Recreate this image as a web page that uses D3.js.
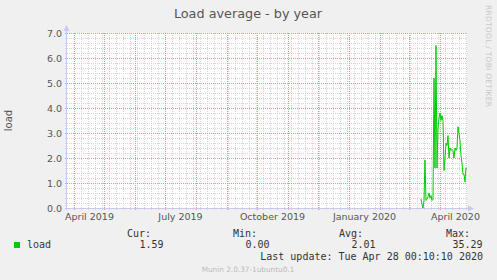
<!DOCTYPE html>
<html>
<head>
<meta charset="utf-8">
<script src="https://cdn.jsdelivr.net/npm/d3@7"></script>
<style>
  body { margin: 0; background: #f0f0f0; }
  text { font-family: "DejaVu Sans", sans-serif; }
  .mono { font-family: "DejaVu Sans Mono", monospace; font-size: 10px; fill: #333; }
</style>
</head>
<body>
<div id="chart"></div>
<script>

// daily load averages, first value on loadStart
var loadStart = "2020-03-13";
var loadValues = [0.36, 0.15, 0.0, 0.3, 1.92, 0.3, 0.35, 0.45, 0.6, 0.4,
    0.5, 0.3, 0.35, 5.2, 1.6, 6.5, 1.6, 3.2, 3.6, 3.8,
    3.5, 3.7, 3.5, 1.5, 2.0, 2.6, 2.5, 2.9, 2.0, 2.4,
    2.3, 2.35, 2.3, 2.0, 2.4, 2.3, 2.4, 3.25, 3.0, 2.7,
    2.1, 1.8, 1.35, 1.35, 1.05, 1.6, 1.59];

var yTicks = [0, 1, 2, 3, 4, 5, 6, 7];
var xLabels = ["2019-04-01", "2019-07-01", "2019-10-01", "2020-01-01", "2020-04-01"];
var legendHeads = ["Cur:", "Min:", "Avg:", "Max:"];
var legendValues = ["1.59", "0.00", "2.01", "35.29"];

var parseDay = d3.timeParse("%Y-%m-%d");
var formatMonth = d3.timeFormat("%B %Y");

var endDate = new Date(2020, 3, 28, 0, 10);
var startDate = d3.timeDay.offset(endDate, -400);

var data = loadValues.map(function(v, i) {
    return { date: d3.timeDay.offset(parseDay(loadStart), i), value: v };
});

var width = 497, height = 280;
var plot = {left: 67, right: 467, top: 33, bottom: 208};

var svg = d3.select("#chart").append("svg")
    .attr("width", width)
    .attr("height", height);

var x = d3.scaleTime()
    .domain([startDate, endDate])
    .range([plot.left, plot.right]);
var y = d3.scaleLinear()
    .domain([0, 7])
    .range([plot.bottom, plot.top]);

// canvas
svg.append("rect")
    .attr("x", plot.left)
    .attr("y", plot.top)
    .attr("width", plot.right - plot.left)
    .attr("height", plot.bottom - plot.top)
    .attr("fill", "#fff");

// minor grid
var minorY = d3.range(0, 7.01, 0.2).filter(function(v) { return Math.abs(v - Math.round(v)) > 0.01; });
svg.selectAll(".minor-y").data(minorY).enter().append("line")
    .attr("x1", plot.left - 2).attr("x2", plot.right)
    .attr("y1", function(d) { return Math.round(y(d)) + 0.5; })
    .attr("y2", function(d) { return Math.round(y(d)) + 0.5; })
    .attr("stroke", "#d4d4d4")
    .attr("stroke-dasharray", "1,1");

var weeks = d3.timeMonday.range(startDate, endDate);
svg.selectAll(".minor-x").data(weeks).enter().append("line")
    .attr("x1", function(d) { return Math.round(x(d)) + 0.5; })
    .attr("x2", function(d) { return Math.round(x(d)) + 0.5; })
    .attr("y1", plot.top).attr("y2", plot.bottom + 2)
    .attr("stroke", "#d4d4d4")
    .attr("stroke-dasharray", "1,1");

// major grid
svg.selectAll(".major-y").data(yTicks).enter().append("line")
    .attr("x1", plot.left - 2).attr("x2", plot.right)
    .attr("y1", function(d) { return Math.round(y(d)) + 0.5; })
    .attr("y2", function(d) { return Math.round(y(d)) + 0.5; })
    .attr("stroke", "#f09090")
    .attr("stroke-dasharray", "1,1");

var months = d3.timeMonth.range(startDate, endDate);
svg.selectAll(".major-x").data(months).enter().append("line")
    .attr("x1", function(d) { return Math.round(x(d)) + 0.5; })
    .attr("x2", function(d) { return Math.round(x(d)) + 0.5; })
    .attr("y1", plot.top).attr("y2", plot.bottom + 3)
    .attr("stroke", "#f09090")
    .attr("stroke-dasharray", "1,1");

// axes with arrows
svg.append("line")
    .attr("x1", plot.left - 0.5).attr("x2", plot.left - 0.5)
    .attr("y1", plot.top - 3).attr("y2", plot.bottom + 2)
    .attr("stroke", "#c8c8f0");
svg.append("line")
    .attr("x1", plot.left - 2).attr("x2", plot.right + 2)
    .attr("y1", plot.bottom + 0.5).attr("y2", plot.bottom + 0.5)
    .attr("stroke", "#c8c8f0");
svg.append("path")
    .attr("d", "M" + (plot.left - 3.5) + "," + (plot.top - 2) + "L" + (plot.left - 0.5) + "," + (plot.top - 8) + "L" + (plot.left + 2.5) + "," + (plot.top - 2) + "Z")
    .attr("fill", "#c8c8f0");
svg.append("path")
    .attr("d", "M" + (plot.right + 1) + "," + (plot.bottom - 2.5) + "L" + (plot.right + 7) + "," + (plot.bottom + 0.5) + "L" + (plot.right + 1) + "," + (plot.bottom + 3.5) + "Z")
    .attr("fill", "#c8c8f0");

// tick labels
svg.selectAll(".y-label").data(yTicks).enter().append("text")
    .attr("x", plot.left - 5)
    .attr("y", function(d) { return y(d) + 3.5; })
    .attr("text-anchor", "end")
    .attr("font-size", 9.5)
    .attr("fill", "#555")
    .text(function(d) { return d.toFixed(1); });

// rrdtool centres month labels in the middle of the month
svg.selectAll(".x-label").data(xLabels).enter().append("text")
    .attr("x", function(d) { return x(d3.timeHour.offset(parseDay(d), 15 * 24 + 12)); })
    .attr("y", plot.bottom + 12)
    .attr("text-anchor", "middle")
    .attr("font-size", 9.5)
    .attr("fill", "#555")
    .text(function(d) { return formatMonth(parseDay(d)); });

// data line
var line = d3.line()
    .x(function(d) { return x(d.date); })
    .y(function(d) { return y(d.value); });

svg.append("path")
    .datum(data)
    .attr("d", line)
    .attr("fill", "none")
    .attr("stroke", "#00cc00")
    .attr("stroke-width", 1);

// titles
svg.append("text")
    .attr("x", 248).attr("y", 17.5)
    .attr("text-anchor", "middle")
    .attr("font-size", 12.8)
    .attr("fill", "#555")
    .text("Load average - by year");

svg.append("text")
    .attr("transform", "translate(12," + ((plot.top + plot.bottom) / 2) + ") rotate(-90)")
    .attr("text-anchor", "middle")
    .attr("font-size", 10)
    .attr("fill", "#555")
    .text("load");

svg.append("text")
    .attr("transform", "translate(485.5,5) rotate(90)")
    .attr("font-size", 7.5)
    .attr("textLength", 102)
    .attr("lengthAdjust", "spacing")
    .attr("fill", "#c8c8c8")
    .text("RRDTOOL / TOBI OETIKER");

// legend
var colEnds = [151, 257, 363, 470];
svg.selectAll(".leg-head").data(legendHeads).enter().append("text")
    .attr("class", "mono")
    .attr("x", function(d, i) { return colEnds[i]; })
    .attr("y", 237)
    .attr("text-anchor", "end")
    .text(function(d) { return d; });

svg.selectAll(".leg-val").data(legendValues).enter().append("text")
    .attr("class", "mono")
    .attr("x", function(d, i) { return colEnds[i] + 12.5; })
    .attr("y", 248)
    .attr("text-anchor", "end")
    .text(function(d) { return d; });

svg.append("rect")
    .attr("x", 14).attr("y", 242)
    .attr("width", 6).attr("height", 6)
    .attr("fill", "#00cc00");
svg.append("text")
    .attr("class", "mono")
    .attr("x", 27).attr("y", 248)
    .text("load");

svg.append("text")
    .attr("class", "mono")
    .attr("x", 483).attr("y", 260)
    .attr("text-anchor", "end")
    .text("Last update: Tue Apr 28 00:10:10 2020");

svg.append("text")
    .attr("x", 248).attr("y", 272)
    .attr("text-anchor", "middle")
    .attr("font-size", 7.3)
    .attr("fill", "#bbb")
    .text("Munin 2.0.37-1ubuntu0.1");

</script>
</body>
</html>
